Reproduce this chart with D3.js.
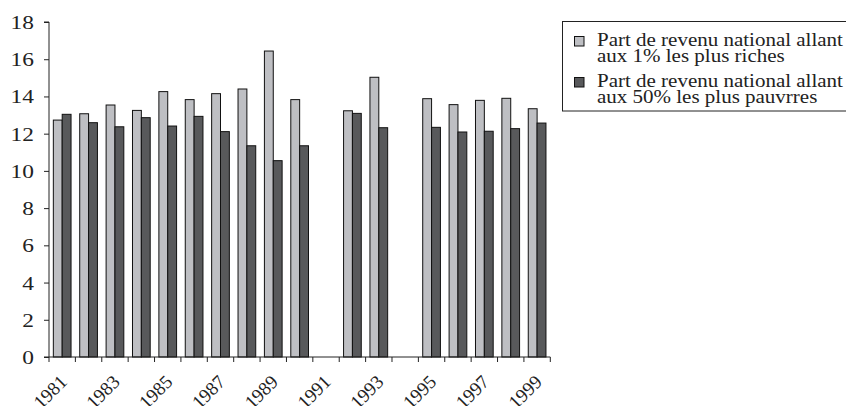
<!DOCTYPE html>
<html>
<head>
<meta charset="utf-8">
<script src="https://cdn.jsdelivr.net/npm/d3@7"></script>
<style>
  html, body { margin: 0; padding: 0; background: #fff; }
  svg { display: block; }
  text { font-family: "Liberation Serif", "Times New Roman", "DejaVu Serif", serif; fill: #222; }
</style>
</head>
<body>
<svg id="chart" width="846" height="406"></svg>
<script>
const years = ["1981","1982","1983","1984","1985","1986","1987","1988","1989","1990","1991","1992","1993","1994","1995","1996","1997","1998","1999"];
const top1 = [12.73, 13.07, 13.54, 13.25, 14.26, 13.83, 14.15, 14.40, 16.44, 13.83, null, 13.23, 15.03, null, 13.88, 13.56, 13.79, 13.90, 13.34];
const bottom50 = [13.04, 12.59, 12.37, 12.86, 12.41, 12.93, 12.11, 11.35, 10.55, 11.35, null, 13.09, 12.32, null, 12.34, 12.09, 12.13, 12.27, 12.57];
const seriesNames = ["Part de revenu national allant aux 1% les plus riches", "Part de revenu national allant aux 50% les plus pauvrres"];
const legendLines = [["Part de revenu national allant", "aux 1% les plus riches"], ["Part de revenu national allant", "aux 50% les plus pauvrres"]];
const yTicks = [0, 2, 4, 6, 8, 10, 12, 14, 16, 18];
const xLabels = ["1981","1983","1985","1987","1989","1991","1993","1995","1997","1999"];
const colors = ["#bebfc3", "#58595b"];

const svg = d3.select("#chart");
const plot = { left: 49, right: 550.3, top: 22, bottom: 357 };
const stretch = 1.3;

const x0 = d3.scaleBand().domain(years).range([plot.left, plot.right]).paddingInner(0).paddingOuter(0);
const x1 = d3.scaleBand().domain([0, 1]).range([0, x0.bandwidth()]).paddingInner(0).paddingOuter(0.49);
const y = d3.scaleLinear().domain([0, 18]).range([plot.bottom, plot.top]);

const data = years.map((yr, i) => ({ year: yr, values: [top1[i], bottom50[i]] }));

// Bars
const groups = svg.append("g").selectAll("g").data(data).join("g")
  .attr("transform", d => `translate(${x0(d.year)},0)`);
groups.selectAll("rect")
  .data(d => d.values.map((v, k) => ({ k, v })).filter(e => e.v != null))
  .join("rect")
  .attr("x", e => x1(e.k))
  .attr("width", x1.bandwidth())
  .attr("y", e => y(e.v))
  .attr("height", e => y(0) - y(e.v))
  .attr("fill", e => colors[e.k])
  .attr("stroke", "#111")
  .attr("stroke-width", 1);

// Y axis
const yAxis = d3.axisLeft(y).tickValues(yTicks).tickSize(5).tickPadding(10).tickFormat(d3.format("d"));
const gy = svg.append("g").attr("transform", `translate(${plot.left},0)`).call(yAxis);
gy.attr("font-family", null);
gy.select(".domain").attr("stroke", "#222").attr("d", `M-5,${plot.top}H0V${plot.bottom}H-5`);
gy.selectAll(".tick line").attr("stroke", "#222");
gy.selectAll(".tick text")
  .attr("x", 0).attr("dy", "0.36em")
  .attr("transform", `translate(-15,0) scale(${stretch},1)`)
  .style("font-size", "18px").attr("fill", "#222");

// X axis line + boundary ticks
const gx = svg.append("g");
gx.append("line").attr("x1", plot.left).attr("x2", plot.right).attr("y1", plot.bottom).attr("y2", plot.bottom).attr("stroke", "#222");
const bounds = years.map(d => x0(d)).concat([x0(years[years.length - 1]) + x0.bandwidth()]);
gx.selectAll("line.t").data(bounds).join("line").attr("class", "t")
  .attr("x1", d => d).attr("x2", d => d)
  .attr("y1", plot.bottom).attr("y2", plot.bottom + 5)
  .attr("stroke", "#222");
gx.selectAll("text").data(xLabels).join("text")
  .attr("text-anchor", "end")
  .attr("transform", d => `translate(${x0(d) + x0.bandwidth() / 2 + 6},${plot.bottom + 26}) rotate(-45)`)
  .style("font-size", "19px")
  .text(d => d);

// Legend
const lg = svg.append("g");
lg.append("rect").attr("x", 562.5).attr("y", 21.5).attr("width", 300).attr("height", 89.5)
  .attr("fill", "#fff").attr("stroke", "#222").attr("stroke-width", 1);
const itemY = [36, 77];
const baseOff = [9.7, 26];
legendLines.forEach((lines, i) => {
  lg.append("rect").attr("x", 574.5).attr("y", itemY[i] + 0.5).attr("width", 9.5).attr("height", 9.5)
    .attr("fill", colors[i]).attr("stroke", "#111");
  lines.forEach((ln, j) => {
    lg.append("text").attr("class", "lt")
      .attr("x", 0).attr("y", 0)
      .attr("data-x", 597).attr("data-y", itemY[i] + baseOff[j])
      .style("font-size", "19px").text(ln);
  });
});
// fit legend text width to the reference (first line ≈ 246px wide)
const refNode = lg.select("text.lt").node();
const w = refNode.getComputedTextLength();
const sx = w > 0 ? 246 / w : 1.1;
lg.selectAll("text.lt").attr("transform", function () {
  return `translate(${this.getAttribute("data-x")},${this.getAttribute("data-y")}) scale(${sx},1)`;
});
</script>
</body>
</html>
